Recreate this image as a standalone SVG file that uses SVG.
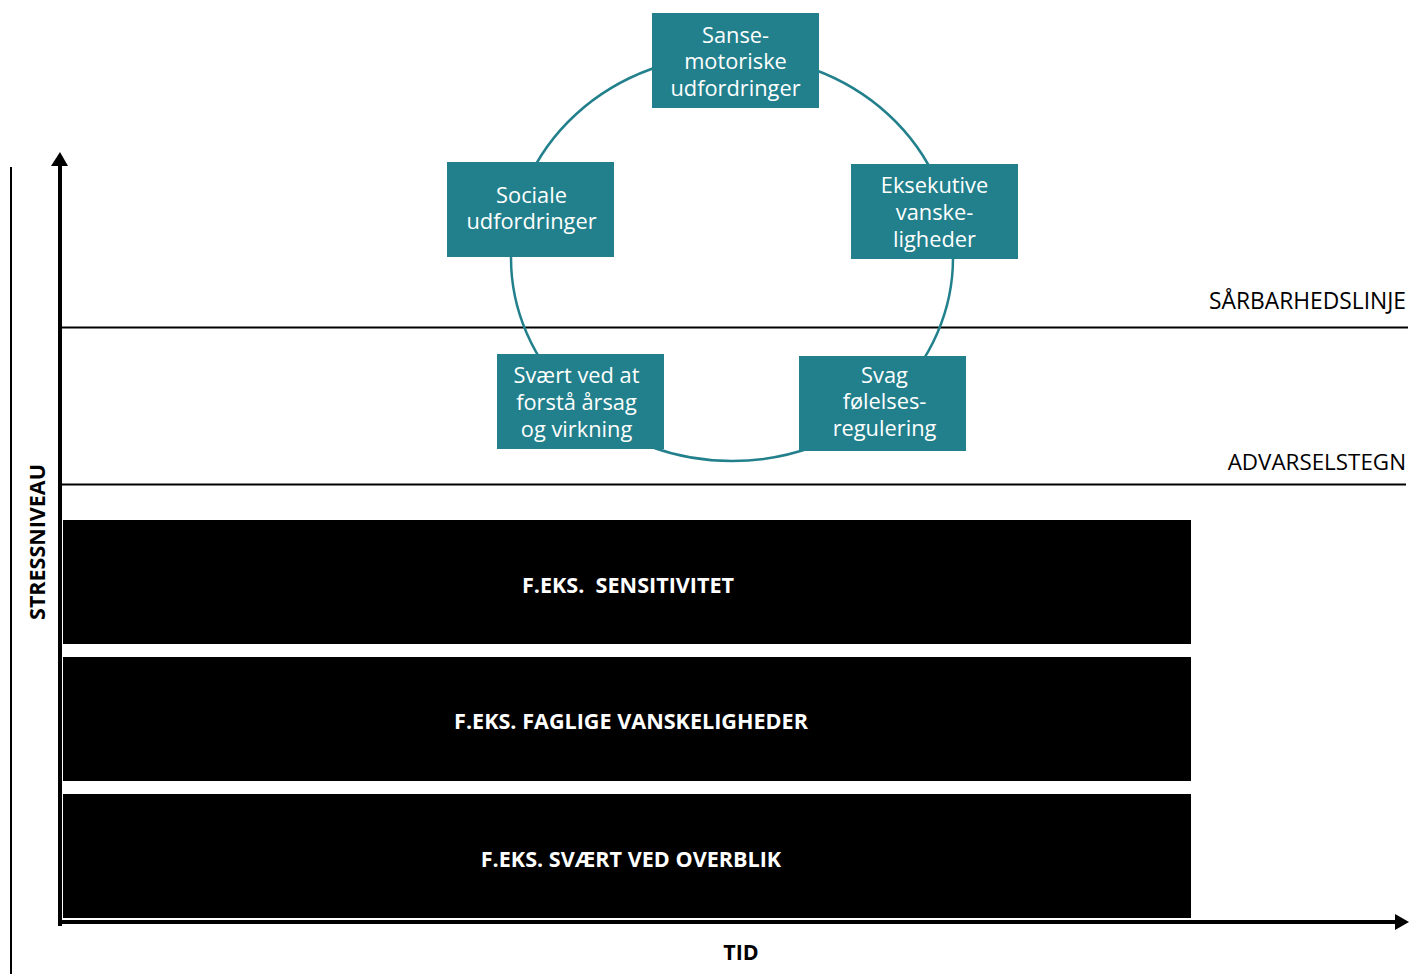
<svg xmlns="http://www.w3.org/2000/svg" width="1410" height="974" viewBox="0 0 1410 974">
<style>
.node rect{fill:#22808c;}
.node text{fill:#ffffff;font-family:"Open Sans","Noto Sans",sans-serif;font-size:21.8px;text-anchor:middle;}
.bar rect{fill:#000000;}
.bar text{fill:#ffffff;font-family:"Open Sans","Noto Sans",sans-serif;font-size:21.6px;font-weight:bold;text-anchor:middle;}
.lbl{font-family:"Open Sans","Noto Sans",sans-serif;font-size:22.8px;fill:#000;}
.axlbl{font-family:"Open Sans","Noto Sans",sans-serif;font-size:21.5px;font-weight:bold;fill:#000;}
</style>
<rect width="1410" height="974" fill="#ffffff"/>
<g id="axes">
<line x1="11" y1="167" x2="11" y2="974" stroke="#000" stroke-width="2"/>
<line x1="60" y1="164" x2="60" y2="926" stroke="#000" stroke-width="4"/>
<polygon points="51,166 60,152 68,166" fill="#000"/>
<line x1="58" y1="922" x2="1396" y2="922" stroke="#000" stroke-width="4"/>
<polygon points="1395,914 1409,922 1395,930" fill="#000"/>
<line x1="60" y1="327.5" x2="1408" y2="327.5" stroke="#000" stroke-width="2"/>
<line x1="60" y1="484.5" x2="1406" y2="484.5" stroke="#000" stroke-width="2"/>
<text class="lbl" x="1406" y="309" text-anchor="end" font-size="22.8">SÅRBARHEDSLINJE</text>
<text class="lbl" x="1406" y="470" text-anchor="end" style="font-size:22.4px">ADVARSELSTEGN</text>
<text class="axlbl" x="741" y="960" text-anchor="middle">TID</text>
<text class="axlbl" transform="translate(45,542) rotate(-90)" text-anchor="middle">STRESSNIVEAU</text>
</g>
<g id="bars">
<g id="bar1" class="bar"><rect x="63" y="520" width="1128" height="124"/><text x="628" y="593" xml:space="preserve">F.EKS.  SENSITIVITET</text></g>
<g id="bar2" class="bar"><rect x="63" y="657" width="1128" height="124"/><text x="631" y="729">F.EKS. FAGLIGE VANSKELIGHEDER</text></g>
<g id="bar3" class="bar"><rect x="63" y="794" width="1128" height="124"/><text x="631" y="867">F.EKS. SVÆRT VED OVERBLIK</text></g>
</g>
<g id="connectors">
<ellipse cx="732" cy="258" rx="221" ry="203" fill="none" stroke="#22808c" stroke-width="2.5"/>
</g>
<g id="n-sanse" class="node"><rect x="652" y="13" width="167" height="95"/>
<text x="735.5" y="43">Sanse-</text><text x="735.5" y="69">motoriske</text><text x="735.5" y="96">udfordringer</text></g>
<g id="n-sociale" class="node"><rect x="447" y="162" width="167" height="95"/>
<text x="531.5" y="203">Sociale</text><text x="531.5" y="229">udfordringer</text></g>
<g id="n-eksekutive" class="node"><rect x="851" y="164" width="167" height="95"/>
<text x="934.5" y="193">Eksekutive</text><text x="934.5" y="220">vanske-</text><text x="934.5" y="247">ligheder</text></g>
<g id="n-svaert" class="node"><rect x="497" y="354" width="167" height="95"/>
<text x="576.5" y="383">Svært ved at</text><text x="576.5" y="410">forstå årsag</text><text x="576.5" y="437">og virkning</text></g>
<g id="n-svag" class="node"><rect x="799" y="356" width="167" height="95"/>
<text x="884.5" y="383">Svag</text><text x="884.5" y="409">følelses-</text><text x="884.5" y="436">regulering</text></g>
</svg>
